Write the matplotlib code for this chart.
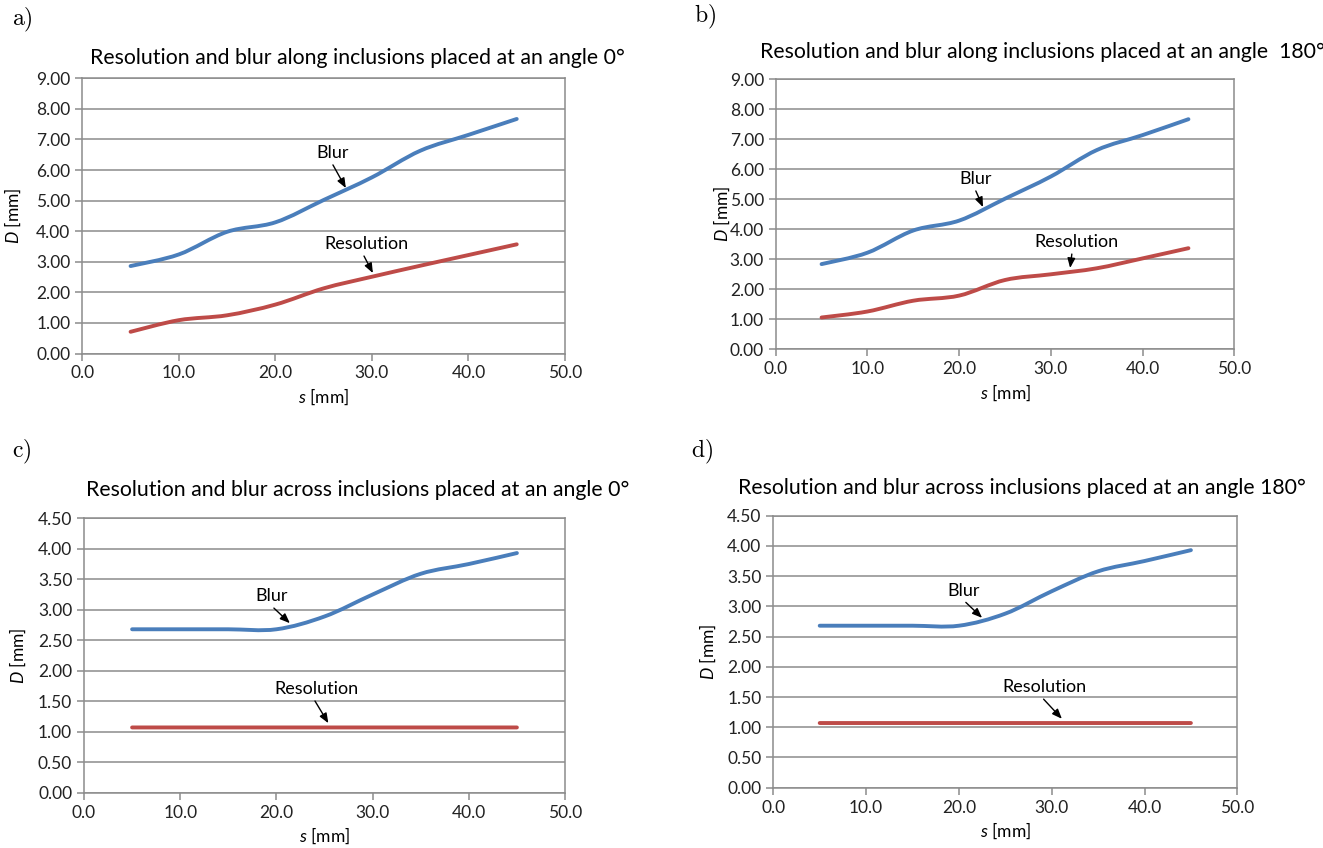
import matplotlib
matplotlib.use("Agg")
import matplotlib.pyplot as plt
from matplotlib.path import Path
from matplotlib.patches import PathPatch

plt.rcParams['font.family'] = ['Lato', 'DejaVu Sans']
plt.rcParams['mathtext.fontset'] = 'custom'
plt.rcParams['mathtext.it'] = 'Lato:italic'
plt.rcParams['mathtext.rm'] = 'Lato'

# data (s in mm, D in mm)
s = [5, 10, 15, 20, 25, 30, 35, 40, 45]

blur_a = [2.86, 3.24, 3.98, 4.29, 5.02, 5.76, 6.63, 7.15, 7.67]
res_a = [0.71, 1.09, 1.25, 1.60, 2.13, 2.51, 2.87, 3.22, 3.57]

blur_b = [2.84, 3.22, 3.96, 4.29, 5.02, 5.76, 6.64, 7.14, 7.67]
res_b = [1.06, 1.26, 1.62, 1.79, 2.31, 2.50, 2.70, 3.03, 3.37]

blur_c = [2.68, 2.68, 2.68, 2.68, 2.89, 3.25, 3.59, 3.75, 3.93]
res_c = [1.07, 1.07, 1.07, 1.07, 1.07, 1.07, 1.07, 1.07, 1.07]

blur_d = [2.68, 2.68, 2.68, 2.68, 2.88, 3.25, 3.58, 3.75, 3.93]
res_d = [1.07, 1.07, 1.07, 1.07, 1.07, 1.07, 1.07, 1.07, 1.07]

titles = ['Resolution and blur along inclusions placed at an angle 0°',
          'Resolution and blur along inclusions placed at an angle  180°',
          'Resolution and blur across inclusions placed at an angle 0°',
          'Resolution and blur across inclusions placed at an angle 180°']

BLUE = '#4A7EBB'
RED = '#BE4B48'
GRID = '#8c8c8c'

W, H = 1323, 848


def smooth_path(x, y):
    # Excel-like smoothed line: cubic bezier through the data points
    verts = [(x[0], y[0])]
    codes = [Path.MOVETO]
    n = len(x)
    for i in range(n - 1):
        xp, yp = (x[i - 1], y[i - 1]) if i > 0 else (x[i], y[i])
        xn, yn = (x[i + 2], y[i + 2]) if i + 2 < n else (x[i + 1], y[i + 1])
        c1 = (x[i] + (x[i + 1] - xp) / 6, y[i] + (y[i + 1] - yp) / 6)
        c2 = (x[i + 1] - (xn - x[i]) / 6, y[i + 1] - (yn - y[i]) / 6)
        verts += [c1, c2, (x[i + 1], y[i + 1])]
        codes += [Path.CURVE4] * 3
    return Path(verts, codes)


def make_ax(fig, left, right, top, bottom):
    return fig.add_axes([left / W, 1 - bottom / H, (right - left) / W, (bottom - top) / H])


def draw_panel(ax, blur, res, ymax, ystep, title, title_xy, title_ha,
               blur_txt, blur_tip, res_txt, res_tip):
    ax.set_xlim(0, 50)
    ax.set_ylim(0, ymax)
    ax.set_xticks([0, 10, 20, 30, 40, 50])
    ax.set_xticklabels(['%.1f' % v for v in [0, 10, 20, 30, 40, 50]])
    yt = [i * ystep for i in range(int(round(ymax / ystep)) + 1)]
    ax.set_yticks(yt)
    ax.set_yticklabels(['%.2f' % v for v in yt])
    ax.yaxis.grid(True, color=GRID, lw=1.1)
    ax.set_axisbelow(True)
    for sp in ax.spines.values():
        sp.set_color(GRID)
        sp.set_linewidth(1.1)
    ax.tick_params(colors=GRID, labelcolor='#222222', labelsize=12.5, length=5, width=1.1)

    ax.add_patch(PathPatch(smooth_path(s, blur), fill=False, ec=BLUE, lw=2.8,
                           capstyle='round', zorder=3))
    ax.add_patch(PathPatch(smooth_path(s, res), fill=False, ec=RED, lw=2.8,
                           capstyle='round', zorder=3))

    ax.set_xlabel(r'$s$ [mm]', fontsize=12.5)
    ax.set_ylabel(r'$D$ [mm]', fontsize=12.5)

    arrow = dict(arrowstyle='-|>,head_length=0.45,head_width=0.18', color='black',
                 lw=1.0, shrinkA=1, shrinkB=0, relpos=(0.45, 0.0))
    ax.annotate('Blur', xy=blur_tip, xytext=blur_txt, ha='center', va='center',
                fontsize=13, arrowprops=arrow, zorder=4)
    ax.annotate('Resolution', xy=res_tip, xytext=res_txt, ha='center', va='center',
                fontsize=13, arrowprops=arrow, zorder=4)

    fig = ax.figure
    fig.text(title_xy[0] / W, 1 - title_xy[1] / H, title, ha=title_ha, va='center',
             fontsize=15.3)


fig = plt.figure(figsize=(W / 100, H / 100), dpi=100)
fig.patch.set_facecolor('white')

ax_a = make_ax(fig, 82.3, 565, 78.3, 353.5)
ax_b = make_ax(fig, 775.7, 1234.3, 79.3, 349.3)
ax_c = make_ax(fig, 84, 565, 518.3, 792.7)
ax_d = make_ax(fig, 773.3, 1237.3, 515.7, 787.7)

draw_panel(ax_a, blur_a, res_a, 9, 1, titles[0], (357, 58), 'center',
           (25.9, 6.56), (27.3, 5.41), (29.4, 3.58), (30.1, 2.63))
draw_panel(ax_b, blur_b, res_b, 9, 1, titles[1], (760, 52), 'left',
           (21.8, 5.68), (22.6, 4.74), (32.8, 3.58), (32.1, 2.71))
draw_panel(ax_c, blur_c, res_c, 4.5, 0.5, titles[2], (358, 490), 'center',
           (19.5, 3.22), (21.4, 2.78), (24.2, 1.70), (25.4, 1.14))
draw_panel(ax_d, blur_d, res_d, 4.5, 0.5, titles[3], (1022, 488), 'center',
           (20.5, 3.26), (22.5, 2.81), (29.2, 1.66), (31.1, 1.14))

for ax, xc in [(ax_a, 15), (ax_b, 724), (ax_c, 20), (ax_d, 710)]:
    pos = ax.get_position()
    ax.yaxis.set_label_coords((xc + 8 - pos.x0 * W) / (pos.width * W), 0.5)

for lab, x, y in [('a)', 22, 20), ('b)', 705, 17), ('c)', 22, 452), ('d)', 702, 452)]:
    fig.text(x / W, 1 - y / H, r'$\mathrm{%s}$' % lab, ha='center', va='center',
             fontsize=17, math_fontfamily='cm')

fig.savefig('out.png', dpi=100)
